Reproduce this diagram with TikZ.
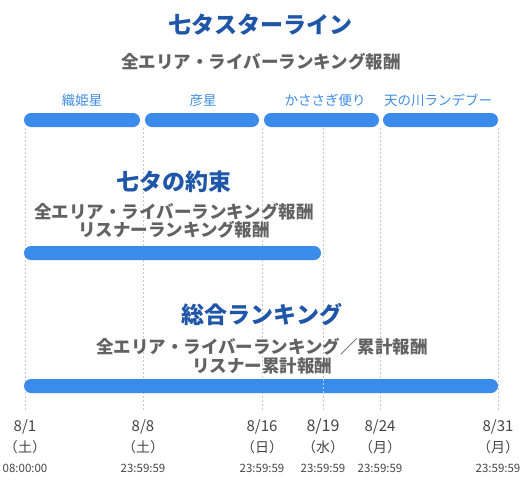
\documentclass[tikz,border=0pt]{standalone}
\usepackage{fontspec}
\setmainfont{Noto Sans CJK JP}
\usetikzlibrary{positioning}
\definecolor{deepblue}{HTML}{1F56A8}
\definecolor{barblue}{HTML}{3A8BEA}
\definecolor{labelblue}{HTML}{3D8DE6}
\definecolor{textgray}{HTML}{626262}
\definecolor{dategray}{HTML}{454545}
\definecolor{guidegray}{HTML}{C8C8C8}
\tikzset{
	title/.style={font=\fontsize{23}{26}\selectfont\bfseries,text=deepblue,inner sep=0pt},
	reward/.style={font=\fontsize{17.5}{20}\selectfont\bfseries,text=textgray,inner sep=0pt},
	phase/.style={font=\fontsize{13.5}{15}\selectfont,text=labelblue,inner sep=0pt},
	bar/.style={fill=barblue,rounded corners=7pt,draw=none},
	guide/.style={guidegray,line width=0.8pt,dash pattern=on 2pt off 2pt},
	datenum/.style={font=\fontsize{15}{17}\selectfont,text=dategray,inner sep=0pt},
	wday/.style={font=\fontsize{14}{16}\selectfont,text=dategray,inner sep=0pt},
	clock/.style={font=\fontsize{11.5}{13}\selectfont,text=dategray,inner sep=0pt}
}

\begin{document}
\begin{tikzpicture}[x=1pt,y=-1pt]
	\useasboundingbox (0,0) rectangle (529,498);
	% date ticks
	\coordinate (d1) at (25,0);
	\coordinate (d8) at (143,0);
	\coordinate (d16) at (262,0);
	\coordinate (d19) at (323,0);
	\coordinate (d24) at (380,0);
	\coordinate (d31) at (498,0);
	\foreach \d in {d1,d8,d16,d19,d24,d31}
		\draw[guide] (\d |- 0,128) -- (\d |- 0,410);

	% star line
	\node [title] (star) at (260,25) {七タスターライン};
	\node [reward] (starrew) at (261,62) {全エリア・ライバーランキング報酬};
	\fill[bar] (24,113) rectangle (140,127);
	\fill[bar] (145,113) rectangle (259,127);
	\fill[bar] (264,113) rectangle (379,127);
	\fill[bar] (383,113) rectangle (498,127);
	\node [phase] (orihime) at (82,100) {織姫星};
	\node [phase] (hikoboshi) at (203,100) {彦星};
	\node [phase] (kasasagi) at (325,100) {かささぎ便り};
	\node [phase] (amanogawa) at (438,100) {天の川ランデブー};

	% promise
	\node [title] (promise) at (174,182) {七タの約束};
	\node [reward] (promrew1) at (174,212) {全エリア・ライバーランキング報酬};
	\node [reward] (promrew2) at (174,230) {リスナーランキング報酬};
	\fill[bar] (24,246) rectangle (321,260);

	% total ranking
	\node [title] (total) at (262,315) {総合ランキング};
	\node [reward] (totrew1) at (262,347) {全エリア・ライバーランキング／累計報酬};
	\node [reward] (totrew2) at (262,366) {リスナー累計報酬};
	\fill[bar] (24,379) rectangle (498,393);
	\draw[guide,white,opacity=0.6] (d19 |- 0,379) -- (d19 |- 0,393);

	% dates
	\foreach \d/\dt/\wk/\tm in {d1/8\slash1/土/08:00:00,d8/8\slash8/土/23:59:59,
		d16/8\slash16/日/23:59:59,d24/8\slash24/月/23:59:59,d31/8\slash31/月/23:59:59}{
		\node [datenum] (\d-num) at (\d |- 0,427) {\dt};
		\node [wday] (\d-wk) at (\d |- 0,447) {（\wk）};
		\node [clock] (\d-tm) at (\d |- 0,468) {\tm};
	}
	\node [datenum,font=\fontsize{16}{18}\selectfont] (d19-num) at (d19 |- 0,427) {8/19};
	\node [wday] (d19-wk) at (d19 |- 0,447) {（水）};
	\node [clock] (d19-tm) at (d19 |- 0,468) {23:59:59};
\end{tikzpicture}
\end{document}
